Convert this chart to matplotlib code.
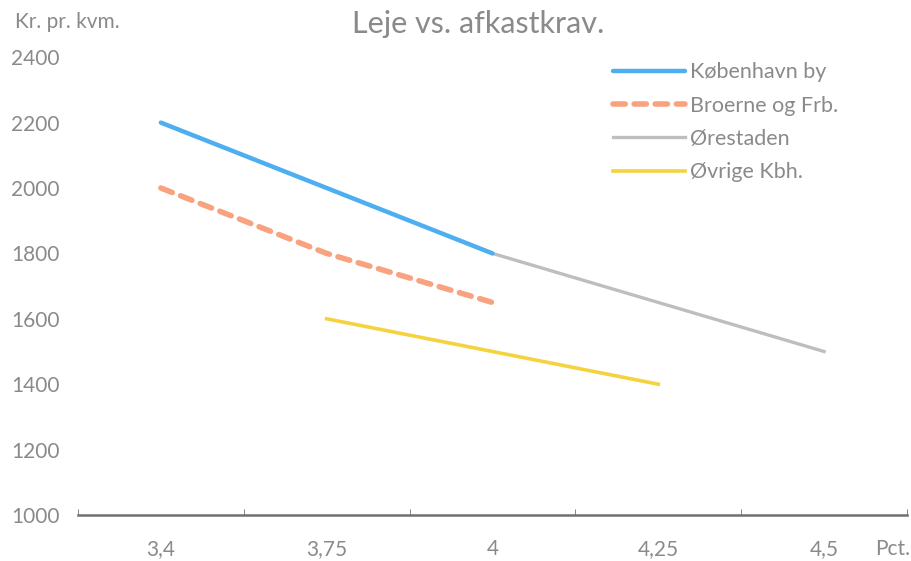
import numpy as np
import matplotlib.pyplot as plt
from matplotlib.ticker import FixedLocator

# afkastkrav (pct.) og leje (kr. pr. kvm.)
kategorier = ['3,4', '3,75', '4', '4,25', '4,5']
kbh_by = [2200, 2000, 1800, np.nan, np.nan]
broerne = [2000, 1800, 1650, np.nan, np.nan]
orestaden = [np.nan, np.nan, 1800, 1650, 1500]
ovrige = [np.nan, 1600, 1500, 1400, np.nan]

plt.rcParams['font.family'] = ['Lato', 'DejaVu Sans']
tekst = '#8a8a8a'

fig = plt.figure(figsize=(9.12, 5.61), dpi=100)
ax = fig.add_axes([0.0855, 0.082, 0.909, 0.816])

x = np.arange(len(kategorier))
ax.plot(x, kbh_by, color='#4daef0', lw=3.2, solid_capstyle='round', label='København by', zorder=4)
ax.plot(x, broerne, color='#f9a27f', lw=4, ls=(0, (2.2, 1.6)), dash_capstyle='round', label='Broerne og Frb.', zorder=3)
ax.plot(x, orestaden, color='#bebebe', lw=2.4, label='Ørestaden', zorder=2)
ax.plot(x, ovrige, color='#f5d33f', lw=2.6, label='Øvrige Kbh.', zorder=2)

ax.set_xlim(-0.5, 4.5)
ax.set_ylim(1000, 2400)
ax.set_xticks(x)
ax.set_xticklabels(kategorier)
ax.xaxis.set_minor_locator(FixedLocator(np.arange(-0.5, 5, 1)))
ax.set_yticks(np.arange(1000, 2401, 200))

for s in ['top', 'right', 'left']:
    ax.spines[s].set_visible(False)
ax.spines['bottom'].set_color('#707070')
ax.spines['bottom'].set_linewidth(1.8)

ax.tick_params(axis='x', which='major', length=0, pad=17, labelsize=15, labelcolor=tekst)
ax.tick_params(axis='x', which='minor', direction='in', length=4, color='#707070')
ax.tick_params(axis='y', length=0, pad=13, labelsize=15, labelcolor=tekst)

fig.text(0.524, 0.941, 'Leje vs. afkastkrav.', ha='center', va='baseline', fontsize=22, color=tekst)
fig.text(0.016, 0.950, 'Kr. pr. kvm.', ha='left', va='baseline', fontsize=15, color=tekst)
fig.text(0.998, 0.011, 'Pct.', ha='right', va='baseline', fontsize=15, color=tekst)

leg = ax.legend(loc='upper left', bbox_to_anchor=(0.672, 0.889), bbox_transform=fig.transFigure,
                frameon=False, fontsize=15.5, borderpad=0, borderaxespad=0,
                handlelength=3.35, handletextpad=0.25, labelspacing=0.62)
for t in leg.get_texts():
    t.set_color(tekst)

fig.savefig('out.png', dpi=100)
